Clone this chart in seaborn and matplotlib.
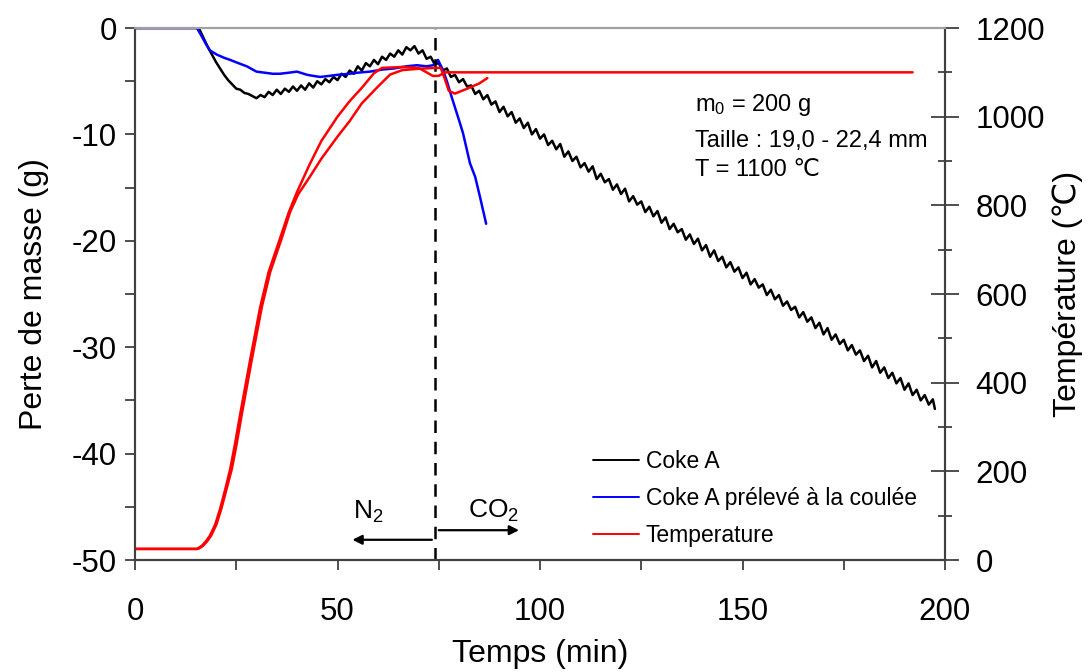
import numpy as np
import pandas as pd
import matplotlib
matplotlib.use("Agg")
import matplotlib.pyplot as plt
from matplotlib.ticker import MultipleLocator
import seaborn as sns

# Coke A : perte de masse (g) en fonction du temps (min)
coke_t = [0, 15.5, 16, 17, 18, 19, 20, 21, 22, 23, 24, 25, 26, 27, 28, 29, 30,
          31, 32, 33, 34, 35, 36, 37, 38, 39, 40, 41, 42, 43, 44, 45, 46, 47, 48, 49, 50,
          51, 52, 53, 54, 55, 56, 57, 58, 59, 60, 61, 62, 63, 64, 65, 66, 67, 68, 69, 70,
          71, 72, 73, 74, 75, 76, 77, 78, 79, 80, 81, 82,
          83, 84, 85, 86, 87, 88, 89, 90, 91, 92, 93, 94, 95, 96, 97, 98, 99, 100,
          101, 102, 103, 104, 105, 106, 107, 108, 109, 110, 111, 112, 113, 114, 115, 116,
          117, 118, 119, 120, 121, 122, 123, 124, 125, 126, 127, 128, 129, 130, 131, 132,
          133, 134, 135, 136, 137, 138, 139, 140, 141, 142, 143, 144, 145, 146, 147, 148,
          149, 150, 151, 152, 153, 154, 155, 156, 157, 158, 159, 160, 161, 162, 163, 164,
          165, 166, 167, 168, 169, 170, 171, 172, 173, 174, 175, 176, 177, 178, 179, 180,
          181, 182, 183, 184, 185, 186, 187, 188, 189, 190, 191, 192, 193, 194, 195, 196,
          197, 197.5]
coke_m = [0, 0, -0.2, -1.0, -1.8, -2.5, -3.2, -3.8, -4.4, -4.9, -5.3, -5.7, -5.8, -6.1, -6.2, -6.4, -6.6,
          -6.3, -6.5, -6.0, -6.3, -5.8, -6.2, -5.7, -6.0, -5.5, -5.9, -5.4, -5.8, -5.2, -5.6, -5.0, -5.3, -4.8, -5.1, -4.6, -4.9,
          -4.3, -4.6, -4.0, -4.3, -3.6, -4.0, -3.3, -3.6, -3.0, -3.4, -2.7, -3.0, -2.4, -2.7, -2.1, -2.5, -1.8, -2.1, -1.7, -2.4,
          -2.1, -2.9, -2.7, -3.4, -3.3, -4.0, -3.8, -4.6, -4.4, -5.1, -4.8, -5.5,
          -5.4, -6.2, -5.9, -6.7, -6.3, -7.2, -6.9, -7.9, -7.4, -8.3, -7.9, -8.9, -8.5, -9.4, -8.9, -10.0, -9.5, -10.4,
          -10.0, -11.0, -10.6, -11.4, -10.9, -12.1, -11.6, -12.5, -12.1, -13.1, -12.7, -13.5, -13.0, -14.2, -13.7, -14.5,
          -14.2, -15.2, -14.7, -15.6, -15.1, -16.3, -15.8, -16.6, -16.3, -17.3, -16.8, -17.7, -17.2, -18.3, -17.8, -18.9,
          -18.4, -19.2, -18.9, -19.9, -19.4, -20.3, -19.8, -20.9, -20.4, -21.5, -20.9, -21.9, -21.5, -22.5, -22.0, -22.9,
          -22.5, -23.5, -23.0, -24.1, -23.6, -24.4, -24.1, -25.1, -24.6, -25.5, -25.1, -26.1, -25.7, -26.5, -26.2, -27.2,
          -26.7, -27.6, -27.2, -28.2, -27.7, -28.8, -28.2, -29.3, -28.8, -29.7, -29.3, -30.3, -29.8, -30.7, -30.3, -31.3,
          -30.8, -31.9, -31.3, -32.4, -31.9, -32.9, -32.4, -33.4, -32.9, -34.0, -33.4, -34.5, -34.0, -35.0, -34.5, -35.4,
          -34.9, -35.8]

# Coke A prélevé à la coulée
coul_t = [0, 15.3, 16.5, 17.5, 18.5, 20.2, 22, 23.5, 25.5, 27.6, 30, 32, 34, 35.8, 38, 40,
          42.5, 44, 45.7, 48, 50, 53, 55, 58, 61.2, 64, 67, 69.6, 72, 73.6, 74.8, 76, 77,
          78.2, 79.2, 80.2, 81, 82.7, 84, 85.2, 86.7]
coul_m = [0, 0, -0.8, -1.5, -2.1, -2.5, -2.8, -3.0, -3.3, -3.6, -4.1, -4.2, -4.3, -4.3, -4.2, -4.1,
          -4.4, -4.5, -4.6, -4.5, -4.4, -4.3, -4.2, -4.1, -3.9, -3.8, -3.6, -3.5, -3.6, -3.5, -3.0, -3.9, -5.0,
          -6.5, -7.7, -8.9, -9.9, -12.7, -14.0, -15.9, -18.4]

# Température (°C)
temp1_t = [0, 15.3, 16.5, 17.5, 18.5, 19.8, 21, 22.3, 23.5, 24.7, 25.9, 28.4, 30.9, 33, 35.8,
           38, 40, 43, 46, 50, 53, 56, 59, 61, 66, 70, 72, 73.5, 75, 76.5, 192]
temp1_T = [25, 25, 32, 42, 55, 80, 115, 160, 205, 262, 325, 450, 570, 650, 725,
           785, 830, 890, 945, 1000, 1035, 1065, 1098, 1110, 1112, 1110, 1100, 1092, 1092, 1100, 1100]
temp2_t = [0, 15.6, 16.8, 17.8, 18.8, 20.1, 21.3, 22.6, 23.9, 25.1, 26.3, 28.8, 31.3, 33.4, 36.2,
           38.3, 40.3, 43, 46, 50, 53, 56, 60, 63, 66, 70, 74, 75.5, 76.5, 77.5, 79, 82, 85, 87]
temp2_T = [25, 25, 32, 42, 55, 80, 115, 160, 205, 262, 325, 450, 570, 650, 725,
           785, 825, 862, 905, 955, 990, 1030, 1068, 1095, 1105, 1108, 1110, 1110, 1085, 1058, 1052, 1063, 1075, 1087]

t_switch = 74  # passage N2 -> CO2

sns.set_theme(style="white")
plt.rcParams['font.family'] = ['Liberation Sans', 'DejaVu Sans']
plt.rcParams['axes.unicode_minus'] = False
plt.rcParams['text.color'] = 'black'
plt.rcParams['axes.labelcolor'] = 'black'
plt.rcParams['mathtext.fontset'] = 'custom'
plt.rcParams['mathtext.rm'] = 'Liberation Sans'
plt.rcParams['mathtext.it'] = 'Liberation Sans'

fig = plt.figure(figsize=(10.9, 6.72), dpi=100)
ax = fig.add_axes([135 / 1090, 1 - 560 / 672, 810 / 1090, 532 / 672])
ax2 = ax.twinx()

sns.lineplot(x=coke_t, y=coke_m, ax=ax, color='black', lw=1.8, sort=False,
             estimator=None, label='Coke A', legend=False)
sns.lineplot(x=coul_t, y=coul_m, ax=ax, color='#0000ff', lw=1.8, sort=False,
             estimator=None, label='Coke A prélevé à la coulée', legend=False)
sns.lineplot(x=temp1_t, y=temp1_T, ax=ax2, color='#ff0000', lw=1.8, sort=False,
             estimator=None, label='Temperature', legend=False)
sns.lineplot(x=temp2_t, y=temp2_T, ax=ax2, color='#ff0000', lw=1.8, sort=False,
             estimator=None, legend=False)

ax.axvline(t_switch, color='black', lw=1.8, ls=(0, (5, 3.5)), zorder=5)

ax.set_xlim(0, 200)
ax.set_ylim(-50, 0)
ax2.set_ylim(0, 1200)
ax.xaxis.set_major_locator(MultipleLocator(50))
ax.xaxis.set_minor_locator(MultipleLocator(25))
ax.yaxis.set_major_locator(MultipleLocator(10))
ax.yaxis.set_minor_locator(MultipleLocator(5))
ax2.yaxis.set_major_locator(MultipleLocator(200))
ax2.yaxis.set_minor_locator(MultipleLocator(100))

axis_col = '#404040'
for a in (ax, ax2):
    for sp in a.spines.values():
        sp.set_color(axis_col)
        sp.set_linewidth(1.5)
ax.spines['top'].set_color('#a0a0a0')
ax2.spines['top'].set_color('#a0a0a0')

ax.tick_params(axis='both', which='both', direction='out', color=axis_col, width=1.3,
               labelsize=22.5, labelcolor='black', bottom=True, left=True)
ax.tick_params(axis='y', which='major', length=7, pad=6)
ax.tick_params(axis='y', which='minor', length=7)
ax.tick_params(axis='x', which='major', length=7, pad=20)
ax.tick_params(axis='x', which='minor', length=7)
ax2.tick_params(axis='y', which='both', direction='inout', color=axis_col, width=1.3,
                labelsize=22.5, labelcolor='black', right=True, pad=12)
ax2.tick_params(axis='y', which='major', length=20)
ax2.tick_params(axis='y', which='minor', length=10)

ax.set_xlabel('Temps (min)', fontsize=23, labelpad=8)
ax.set_ylabel('Perte de masse (g)', fontsize=23, labelpad=16)
ax2.set_ylabel('Température (℃)', fontsize=23, labelpad=5)

# flèches N2 / CO2
ax.annotate('', xy=(53, -48.1), xytext=(t_switch, -48.1),
            arrowprops=dict(arrowstyle='-|>', color='black', lw=1.6, mutation_scale=14))
ax.annotate('', xy=(95.5, -47.2), xytext=(t_switch + 0.3, -47.2),
            arrowprops=dict(arrowstyle='-|>', color='black', lw=1.6, mutation_scale=14))
ax.text(57.5, -45.5, 'N$_2$', fontsize=19, ha='center', va='center')
ax.text(88.6, -45.4, 'CO$_2$', fontsize=19, ha='center', va='center')

# conditions
ax.text(138.3, -7.2, 'm$_0$ = 200 g', fontsize=17, ha='left', va='center')
ax.text(138.3, -10.6, 'Taille : 19,0 - 22,4 mm', fontsize=17, ha='left', va='center')
ax.text(138.3, -13.3, 'T = 1100 ℃', fontsize=17, ha='left', va='center')

handles = [ax.lines[0], ax.lines[1], ax2.lines[0]]
labels = ['Coke A', 'Coke A prélevé à la coulée', 'Temperature']
leg = ax.legend(handles, labels, loc='upper left', bbox_to_anchor=(0.54, 0.245),
                frameon=False, fontsize=16.5, handlelength=2.0, handletextpad=0.3,
                labelspacing=0.6)
for h in leg.get_lines():
    h.set_linewidth(1.4)

fig.savefig('out.png', dpi=100)
